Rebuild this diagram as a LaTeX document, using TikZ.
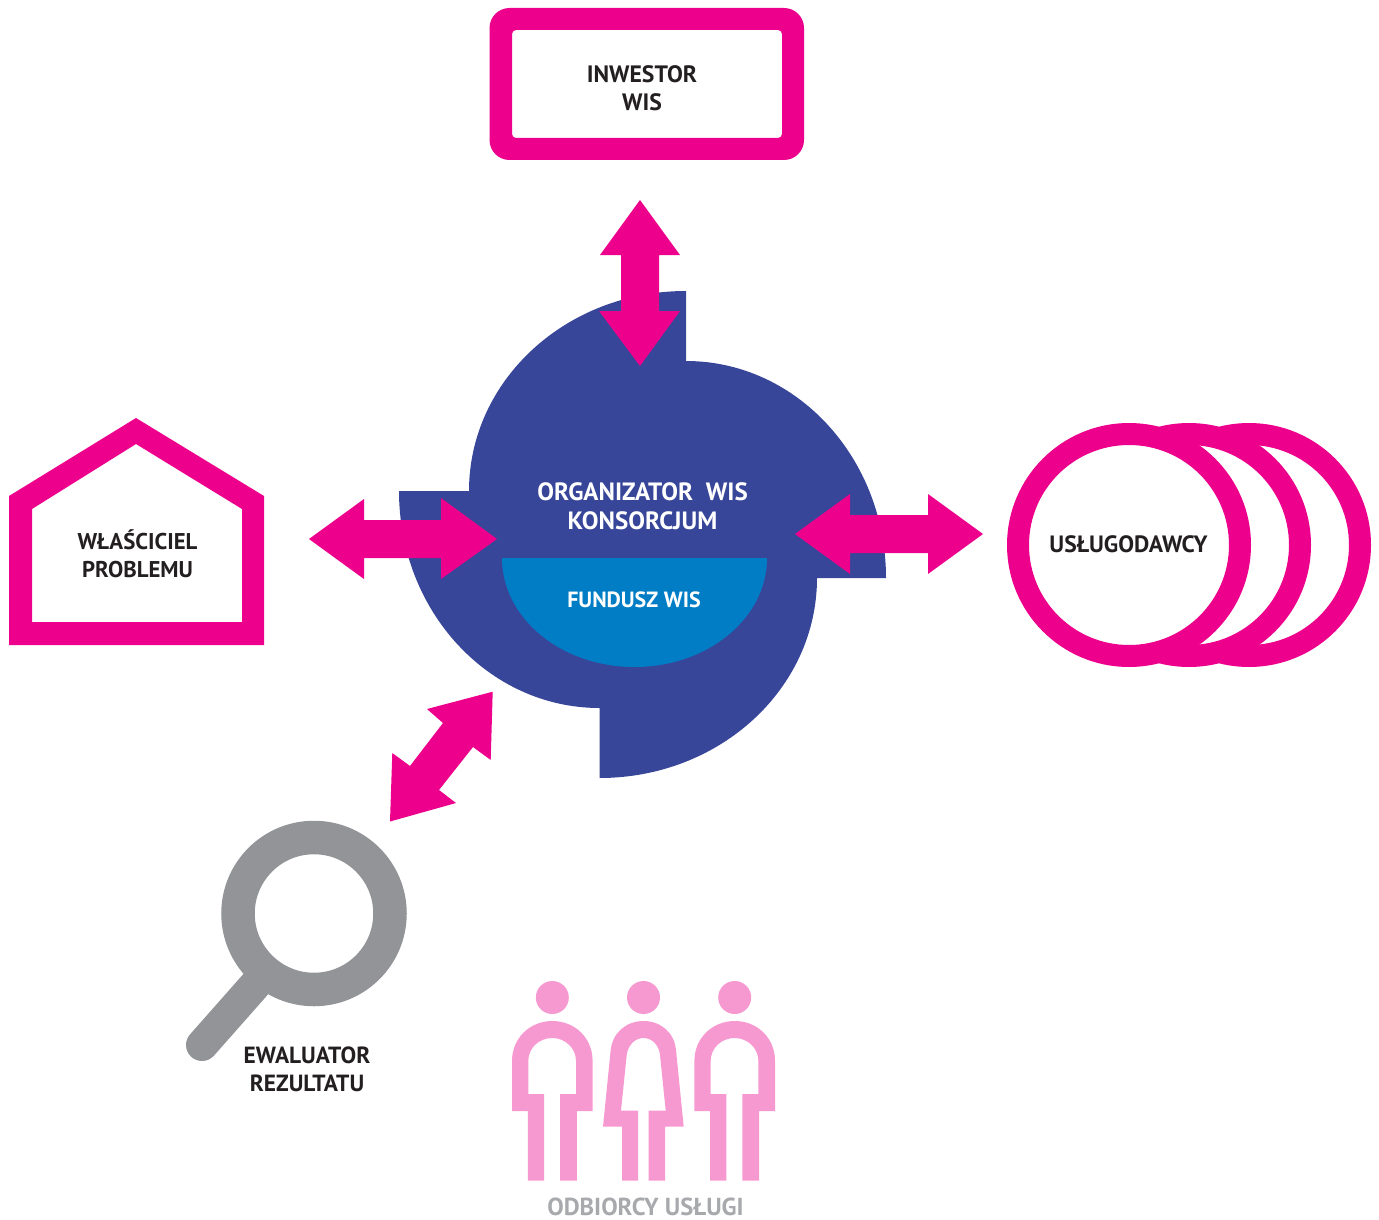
\documentclass[tikz,border=0pt]{standalone}
\usepackage{fontspec}
\setmainfont{PT Sans}
\definecolor{mag}{HTML}{EC008C}
\definecolor{navy}{HTML}{384699}
\definecolor{fund}{HTML}{007DC5}
\definecolor{pinkf}{HTML}{F799D1}
\definecolor{greym}{HTML}{929497}
\definecolor{greyt}{HTML}{A7A9AC}
\definecolor{ink}{HTML}{231F20}
\tikzset{
  lbl/.style={font=\fontsize{#1}{28}\selectfont\bfseries,text=ink,align=center,inner sep=0pt},
  lbl/.default=23.5,
  blockarrow/.style={fill=mag,draw=none},
  person/.style={fill=pinkf,draw=none},
}
\begin{document}
\begin{tikzpicture}[x=1pt,y=-1pt]
\useasboundingbox (0,0) rectangle (1379,1220);
% investor frame
\fill[mag,even odd rule]
  {[rounded corners=20pt] (489.5,8) rectangle (804,160)}
  {[rounded corners=4pt] (512,30) rectangle (782,138)};
% house
\fill[mag,even odd rule] (9,496) -- (136,418) -- (264,496) -- (264,645) -- (9,645) -- cycle
  (32,509) -- (136,444) -- (242,509) -- (242,622) -- (32,622) -- cycle;
% circles
\foreach \cx in {1249,1189,1129}
  \draw[mag,fill=white,line width=22pt] (\cx,545) circle[radius=111];
% central shape
\fill[navy] (686,291) -- (686,361)
  .. controls (796.5,361) and (886,458) .. (886,578)
  -- (817,578)
  .. controls (817,688.5) and (720,778) .. (599.5,778)
  -- (599.5,708)
  .. controls (488.5,708) and (399,611) .. (399,491)
  -- (469,491)
  .. controls (469,380.5) and (566,291) .. (686,291) -- cycle;
% fund
\fill[fund] (502,558) -- (767,558)
  .. controls (767,618.2) and (707.7,667) .. (634.5,667)
  .. controls (561.3,667) and (502,618.2) .. (502,558) -- cycle;
% arrows
\fill[blockarrow] (640,200) -- (680,255) -- (659,255) -- (659,311) -- (680,311) -- (640,366)
  -- (599,311) -- (621,311) -- (621,255) -- (600,255) -- cycle;
\fill[blockarrow] (309,539) -- (364,499) -- (364,520) -- (441,520) -- (441,498) -- (497,539)
  -- (441,579) -- (441,558) -- (364,558) -- (364,579) -- cycle;
\fill[blockarrow] (795,534) -- (850,494) -- (850,515) -- (928,515) -- (928,494) -- (983,534)
  -- (928,574) -- (928,553) -- (850,553) -- (850,574) -- cycle;
\fill[blockarrow] (492.7,691.7) -- (490.7,760) -- (473,747) -- (439,790) -- (456,803) -- (390,821.5)
  -- (392.3,753) -- (410,766) -- (443,723) -- (427,709) -- cycle;
% magnifier
\draw[greym,line width=32pt,line cap=round] (255,985) -- (202,1045);
\draw[greym,fill=white,line width=33.5pt] (314,913.5) circle[radius=76];
% people
\foreach \dx in {0,182.4}{
  \fill[person] (552.3+\dx,997.5) circle[radius=16.5];
  \fill[person] (512+\dx,1111) -- (512+\dx,1061)
    .. controls (512+\dx,1038) and (530+\dx,1021) .. (552.3+\dx,1021)
    .. controls (575+\dx,1021) and (592.6+\dx,1038) .. (592.6+\dx,1061)
    -- (592.6+\dx,1111) -- (576.8+\dx,1111) -- (576.8+\dx,1180.7) -- (560+\dx,1180.7)
    -- (560+\dx,1094) -- (576+\dx,1094) -- (576+\dx,1061)
    .. controls (576+\dx,1048) and (565+\dx,1038) .. (552.3+\dx,1038)
    .. controls (539+\dx,1038) and (528.3+\dx,1048) .. (528.3+\dx,1061)
    -- (528.3+\dx,1094) -- (544+\dx,1094) -- (544+\dx,1180.7) -- (527.8+\dx,1180.7)
    -- (527.8+\dx,1111) -- cycle;
}
\fill[person] (643.5,997.5) circle[radius=16.5];
\fill[person] (603,1126.7) -- (610.7,1050)
  .. controls (612.5,1033) and (626,1021) .. (643.5,1021)
  .. controls (661,1021) and (674.5,1033) .. (676,1050)
  -- (683.7,1126.7) -- (665,1126.7) -- (665,1180.7) -- (648.7,1180.7) -- (648.7,1110.7)
  -- (665.7,1110.7) -- (660,1055)
  .. controls (659,1045) and (652,1038) .. (643.5,1038)
  .. controls (635,1038) and (628,1045) .. (626.7,1055)
  -- (621,1110.7) -- (638,1110.7) -- (638,1180.7) -- (622,1180.7) -- (622,1126.7) -- cycle;
% labels
\node[lbl=23.7] (inwestor) at (642,88) {INWESTOR\\WIS};
\node[lbl=22.8] (wlasciciel) at (137.5,554) {WŁAŚCICIEL\\PROBLEMU};
\node[lbl=23.6] (uslugodawcy) at (1128.5,544) {USŁUGODAWCY};
\node[lbl=25,text=white] (organizator) at (642.5,506.5) {ORGANIZATOR\ \ WIS\\[1pt]KONSORCJUM};
\node[lbl=22,text=white] (fundusz) at (634,600) {FUNDUSZ WIS};
\node[lbl=23.4] (ewaluator) at (307,1069) {EWALUATOR\\REZULTATU};
\node[lbl=24.6,text=greyt] (odbiorcy) at (645.5,1207) {ODBIORCY USŁUGI};
\end{tikzpicture}
\end{document}
